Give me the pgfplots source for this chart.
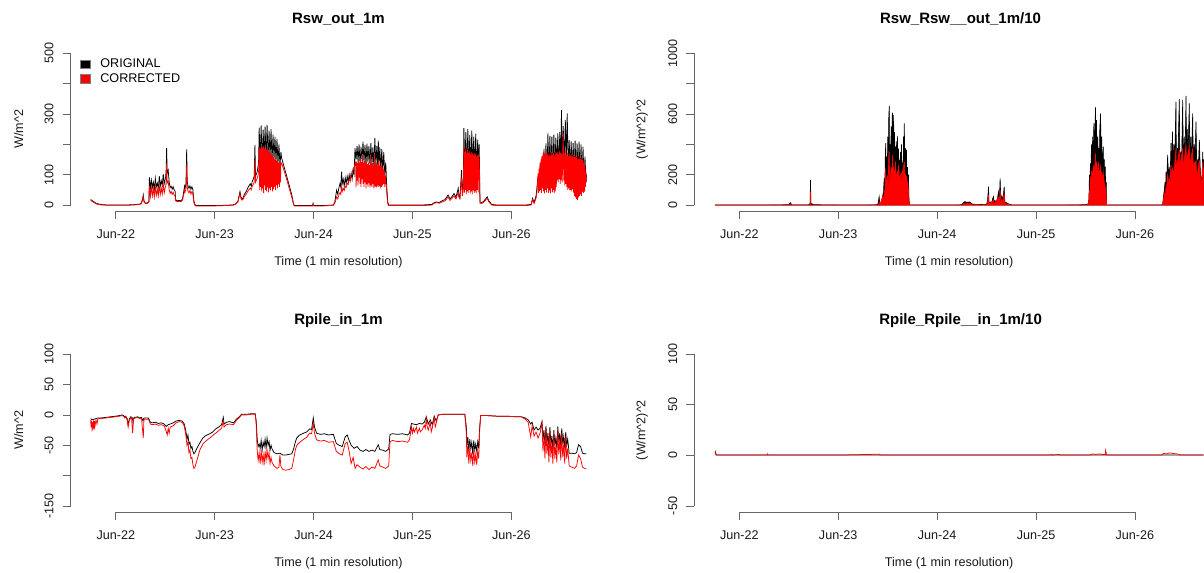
\documentclass[border=0pt]{standalone}
\usepackage{fontspec}
\setmainfont{Liberation Sans}
\usepackage{pgfplots}
\pgfplotsset{compat=1.18}
\tikzset{rax/.style={draw=black!60, line width=0.8pt}}
\pgfplotsset{
  sqleg/.style={legend image code/.code={\draw[##1, line width=0.5pt] (0pt,-4.2pt) rectangle (9.5pt,4.2pt);}},
  rbase/.style={
    scale only axis, width=535.7pt, height=163.9pt, anchor=south west,
    xmin=-0.457, xmax=4.96, clip=false,
    axis x line*=bottom, axis y line*=left,
    x axis line style={draw=none}, y axis line style={draw=none},
    tick align=outside, major tick length=8pt,
    tick style={draw=black!60, line width=0.8pt},
    xtick={0,1,2,3,4}, xticklabels={Jun-22,Jun-23,Jun-24,Jun-25,Jun-26},
    /pgf/number format/assume math mode=true,
    ticklabel style={font=\fontsize{12.6}{15}\selectfont, text=black!90},
    xticklabel style={anchor=center}, xticklabel shift=14.8pt,
    yticklabel style={rotate=90, anchor=center}, yticklabel shift=13.5pt,
    xlabel={Time (1 min resolution)},
    every axis x label/.style={at={(axis description cs:0.5,0)}, anchor=center, yshift=-51.5pt, font=\fontsize{12.6}{15}\selectfont, text=black!90},
    every axis y label/.style={at={(axis description cs:0,0.5)}, xshift=-52pt, rotate=90, anchor=center, font=\fontsize{12.6}{15}\selectfont, text=black!90},
    every axis title/.style={at={(axis description cs:0.5,1)}, anchor=base, yshift=24pt, font=\bfseries\fontsize{15}{18}\selectfont},
  },
  rright/.style={width=509.8pt, xmax=4.698,
    every axis title/.style={at={(axis description cs:0.5226,1)}, anchor=base, yshift=24pt, font=\bfseries\fontsize{15}{18}\selectfont}},
}
\begin{document}
\begin{tikzpicture}[x=1pt,y=1pt]
\path (0,0) rectangle (1204,571);
% ---------------- Top left ----------------
\begin{axis}[rbase, at={(70.6pt,359.9pt)},
  ymin=-20, ymax=520, ytick={0,100,200,300,400,500}, yticklabels={0,100,,300,,500},
  ylabel={W/m\textasciicircum 2}, title={Rsw\_out\_1m},
  sqleg, legend cell align=left,
  legend style={at={(axis description cs:0,1)}, anchor=north west, xshift=9.6pt, yshift=-9.5pt,
    draw=none, fill=none, inner sep=0pt, row sep=0.3pt, column sep=8.5pt, font=\fontsize{12.6}{15}\selectfont,
    nodes={inner sep=1.5pt, text height=9pt, text depth=2.4pt}}]
\addlegendimage{fill=black, draw=black!50}
\addlegendentry{ORIGINAL}
\addlegendimage{fill=red, draw=black!50}
\addlegendentry{CORRECTED}
\addplot[black, line width=0.75pt, forget plot] coordinates {
(-0.254,18)(-0.24,15)(-0.22,10)(-0.20,6)(-0.17,3)(-0.13,1)(-0.08,0)(0.0,0)(0.10,0)(0.18,1)(0.24,3)(0.255,5)(0.27,18)(0.278,33)(0.286,12)(0.30,6)(0.32,7)(0.335,12)
(0.34,91)(0.35,55)(0.36,82)(0.37,58)(0.38,75)(0.39,52)(0.40,88)(0.41,60)(0.42,72)(0.43,55)(0.44,95)(0.45,62)(0.46,80)(0.47,65)(0.48,102)(0.49,70)(0.50,85)(0.505,95)(0.51,120)(0.514,187)(0.52,105)(0.53,115)(0.54,75)(0.55,58)(0.56,62)(0.57,52)(0.58,60)(0.59,50)(0.60,45)(0.605,18)(0.62,14)(0.64,15)(0.66,14)(0.675,20)(0.685,40)(0.695,62)(0.70,55)(0.71,70)(0.717,183)(0.722,80)(0.73,62)(0.74,55)(0.75,63)(0.76,52)(0.77,60)(0.78,50)(0.785,30)(0.79,12)(0.80,2)(0.81,-2)
(0.9,-2)(1.0,-2)(1.1,-1)(1.18,0)(1.21,3)(1.235,12)(1.256,44)(1.265,28)(1.275,20)(1.29,25)(1.30,35)(1.32,45)(1.34,60)(1.36,70)(1.37,62)(1.38,78)(1.39,85)(1.40,95)(1.407,198)(1.413,95)(1.42,100)(1.43,110)(1.44,130)(1.445,150)
(1.45,255)(1.46,150)(1.47,262)(1.48,140)(1.49,248)(1.50,160)(1.51,258)(1.52,145)(1.53,264)(1.54,155)(1.55,245)(1.56,150)(1.57,250)(1.58,140)(1.59,232)(1.60,150)(1.61,225)(1.62,140)(1.63,218)(1.64,135)(1.65,200)(1.66,130)(1.67,175)(1.677,155)
(1.70,128)(1.73,93)(1.76,57)(1.78,33)(1.795,8)(1.805,-2)
(1.9,-2)(1.99,-2)(1.995,5)(2.0,-2)(2.1,-2)(2.2,0)(2.215,10)(2.233,49)(2.245,35)(2.255,55)(2.267,71)(2.275,60)(2.284,110)(2.29,70)(2.30,85)(2.31,62)(2.32,90)(2.33,70)(2.34,95)(2.35,75)(2.36,100)(2.37,80)(2.38,105)(2.39,85)(2.40,115)(2.41,100)(2.419,187)
(2.43,150)(2.44,195)(2.45,140)(2.46,200)(2.47,135)(2.48,192)(2.49,145)(2.50,209)(2.51,140)(2.52,198)(2.53,130)(2.54,202)(2.55,140)(2.56,195)(2.57,135)(2.58,205)(2.59,130)(2.60,190)(2.61,125)(2.62,220)(2.63,130)(2.64,195)(2.65,120)(2.655,212)(2.66,125)(2.67,190)(2.68,115)(2.69,185)(2.70,110)(2.71,175)(2.72,100)(2.73,140)(2.74,60)(2.75,10)(2.76,0)
(2.9,0)(3.1,0)(3.2,2)(3.21,6)(3.24,10)(3.27,8)(3.30,14)(3.33,18)(3.36,33)(3.38,20)(3.40,28)(3.42,38)(3.44,25)(3.463,55)(3.47,30)(3.48,25)(3.497,115)(3.505,40)(3.515,80)
(3.52,253)(3.53,120)(3.54,240)(3.55,110)(3.56,250)(3.57,125)(3.58,230)(3.59,110)(3.60,245)(3.61,120)(3.62,225)(3.63,115)(3.64,235)(3.65,105)(3.66,215)(3.67,110)(3.675,200)(3.683,10)
(3.70,8)(3.72,12)(3.74,20)(3.756,27)(3.77,15)(3.80,2)(3.85,0)(4.0,0)(4.15,0)(4.20,2)(4.215,22)(4.23,8)(4.25,30)(4.26,60)
(4.27,93)(4.28,50)(4.29,130)(4.30,70)(4.31,160)(4.32,80)(4.33,185)(4.34,90)(4.35,203)(4.36,95)(4.37,236)(4.38,100)(4.39,228)(4.40,110)(4.41,225)(4.42,105)(4.43,232)(4.44,115)(4.45,222)(4.46,120)(4.47,236)(4.48,110)(4.49,240)(4.50,130)(4.507,313)(4.515,140)(4.525,260)(4.535,130)(4.546,280)(4.555,140)(4.565,302)(4.575,125)(4.585,214)(4.595,120)(4.605,210)(4.615,115)(4.625,205)(4.635,110)(4.645,212)(4.655,105)(4.665,203)(4.675,100)(4.685,209)(4.695,95)(4.705,200)(4.715,90)(4.725,192)(4.735,85)(4.745,159)(4.755,75)(4.76,99)
};
\addplot[red, line width=0.75pt, forget plot] coordinates {
(-0.254,15)(-0.24,12)(-0.22,8)(-0.20,4)(-0.17,1)(-0.13,0)(-0.08,-1)(0.0,-1)(0.10,-1)(0.18,0)(0.24,2)(0.255,4)(0.27,14)(0.278,26)(0.286,10)(0.30,5)(0.32,5)(0.335,10)
(0.34,62)(0.35,28)(0.36,58)(0.37,30)(0.38,55)(0.39,26)(0.40,60)(0.41,32)(0.42,52)(0.43,30)(0.44,63)(0.45,35)(0.46,56)(0.47,36)(0.48,68)(0.49,40)(0.50,58)(0.505,62)(0.51,80)(0.514,137)(0.52,72)(0.53,78)(0.54,50)(0.55,38)(0.56,45)(0.57,35)(0.58,42)(0.59,33)(0.60,30)(0.605,14)(0.62,11)(0.64,12)(0.66,11)(0.675,16)(0.685,32)(0.695,48)(0.70,42)(0.71,55)(0.717,135)(0.722,60)(0.73,45)(0.74,40)(0.75,48)(0.76,36)(0.77,44)(0.78,35)(0.785,20)(0.79,8)(0.80,-1)(0.81,-3)
(0.9,-3)(1.0,-3)(1.1,-2)(1.18,-1)(1.21,2)(1.235,10)(1.256,38)(1.265,22)(1.275,16)(1.29,20)(1.30,28)(1.32,36)(1.34,48)(1.36,56)(1.37,50)(1.38,62)(1.39,68)(1.40,75)(1.407,150)(1.413,75)(1.42,80)(1.43,88)(1.44,100)(1.445,115)
(1.45,190)(1.455,50)(1.46,185)(1.465,60)(1.47,195)(1.475,45)(1.48,188)(1.485,55)(1.49,192)(1.495,40)(1.50,185)(1.505,65)(1.51,190)(1.515,50)(1.52,182)(1.525,45)(1.53,188)(1.535,58)(1.54,180)(1.545,42)(1.55,175)(1.555,55)(1.56,172)(1.565,48)(1.57,168)(1.575,60)(1.58,165)(1.585,45)(1.59,160)(1.595,52)(1.60,158)(1.605,60)(1.61,150)(1.615,50)(1.62,148)(1.625,65)(1.63,145)(1.635,55)(1.64,142)(1.645,68)(1.65,140)(1.655,60)(1.66,138)(1.665,75)(1.67,140)(1.677,138)
(1.70,115)(1.73,82)(1.76,48)(1.78,25)(1.795,5)(1.805,-3)
(1.9,-3)(1.99,-3)(1.995,3)(2.0,-3)(2.1,-3)(2.2,-1)(2.215,6)(2.233,27)(2.245,20)(2.255,33)(2.267,40)(2.275,35)(2.284,60)(2.29,45)(2.30,55)(2.31,48)(2.32,62)(2.33,58)(2.34,72)(2.35,68)(2.36,85)(2.37,80)(2.38,100)(2.39,105)(2.40,120)(2.41,125)(2.419,132)
(2.425,140)(2.43,60)(2.435,143)(2.44,80)(2.445,138)(2.45,65)(2.455,145)(2.46,90)(2.465,140)(2.47,70)(2.475,148)(2.48,60)(2.485,142)(2.49,85)(2.495,165)(2.50,70)(2.505,140)(2.51,60)(2.515,145)(2.52,75)(2.525,138)(2.53,55)(2.535,142)(2.54,68)(2.545,135)(2.55,60)(2.555,140)(2.56,72)(2.565,132)(2.57,58)(2.575,160)(2.58,65)(2.585,135)(2.59,60)(2.595,138)(2.60,70)(2.605,130)(2.61,55)(2.615,165)(2.62,62)(2.625,135)(2.63,60)(2.635,140)(2.64,58)(2.645,130)(2.65,65)(2.655,150)(2.66,60)(2.665,132)(2.67,62)(2.675,128)(2.68,55)(2.685,140)(2.69,60)(2.695,125)(2.70,65)(2.705,120)(2.71,70)(2.715,115)(2.72,60)(2.725,100)(2.73,80)(2.74,40)(2.75,5)(2.76,-2)
(2.9,-2)(3.1,-2)(3.2,0)(3.21,4)(3.24,8)(3.27,6)(3.30,10)(3.33,14)(3.36,26)(3.38,15)(3.40,22)(3.42,30)(3.44,20)(3.463,42)(3.47,25)(3.48,20)(3.497,90)(3.505,30)(3.515,60)
(3.52,190)(3.525,40)(3.53,175)(3.535,50)(3.54,185)(3.545,35)(3.55,170)(3.555,45)(3.56,188)(3.565,40)(3.57,172)(3.575,50)(3.58,180)(3.585,38)(3.59,168)(3.595,45)(3.60,175)(3.605,35)(3.61,170)(3.615,48)(3.62,165)(3.625,40)(3.63,172)(3.635,45)(3.64,168)(3.645,38)(3.65,160)(3.655,50)(3.66,165)(3.665,42)(3.67,158)(3.675,150)(3.683,6)
(3.70,5)(3.72,9)(3.74,16)(3.756,22)(3.77,12)(3.80,0)(3.85,-2)(4.0,-2)(4.15,-2)(4.20,0)(4.215,18)(4.23,5)(4.25,22)(4.26,45)
(4.27,104)(4.275,40)(4.28,120)(4.285,45)(4.29,140)(4.295,50)(4.30,150)(4.305,40)(4.31,160)(4.315,55)(4.32,170)(4.325,45)(4.33,176)(4.335,38)(4.34,168)(4.345,50)(4.35,172)(4.355,42)(4.36,165)(4.365,55)(4.37,176)(4.375,40)(4.38,160)(4.385,48)(4.39,170)(4.395,38)(4.40,162)(4.405,55)(4.41,175)(4.415,42)(4.42,165)(4.425,50)(4.43,170)(4.435,40)(4.44,160)(4.445,45)(4.45,176)(4.455,60)(4.46,170)(4.465,82)(4.47,175)(4.475,75)(4.48,168)(4.485,85)(4.49,180)(4.495,70)(4.50,172)(4.505,82)(4.51,165)(4.515,75)(4.52,178)(4.525,236)(4.53,80)(4.535,170)(4.54,65)(4.545,181)(4.55,70)(4.555,165)(4.56,60)(4.565,172)(4.57,50)(4.575,160)(4.58,55)(4.585,170)(4.59,48)(4.595,162)(4.60,50)(4.605,168)(4.61,45)(4.615,160)(4.62,52)(4.625,165)(4.63,40)(4.635,158)(4.64,30)(4.645,162)(4.65,25)(4.655,155)(4.66,20)(4.665,160)(4.67,16)(4.675,150)(4.68,25)(4.685,158)(4.69,30)(4.695,152)(4.70,35)(4.705,160)(4.71,30)(4.715,150)(4.72,44)(4.725,148)(4.73,40)(4.735,140)(4.74,44)(4.745,130)(4.75,60)(4.755,110)(4.76,77)
};
\draw[rax] (axis cs:0,-20) -- (axis cs:4,-20);
\draw[rax] (axis cs:-0.457,0) -- (axis cs:-0.457,500);
\end{axis}
% ---------------- Bottom left ----------------
\begin{axis}[rbase, at={(70.6pt,58.9pt)},
  ymin=-160, ymax=110, ytick={-150,-100,-50,0,50,100}, yticklabels={-150,,-50,0,50,100},
  ylabel={W/m\textasciicircum 2}, title={Rpile\_in\_1m}]
\addplot[black, line width=0.75pt, forget plot] coordinates {
(-0.254,-6)(-0.24,-8)(-0.22,-7)(-0.20,-6)(-0.18,-5)(-0.15,-5)(-0.10,-4)(-0.05,-3)(0.0,-2)(0.04,-1)(0.06,0)(0.08,-1)(0.09,-4)(0.10,-2)(0.115,-6)(0.125,-16)(0.135,-8)(0.15,-3)(0.165,-4)(0.175,-12)(0.185,-4)(0.20,-4)(0.22,-3)(0.24,-5)(0.26,-4)(0.275,-10)(0.285,-5)(0.30,-5)(0.33,-5)(0.35,-12)(0.37,-13)(0.40,-12)(0.43,-14)(0.46,-13)(0.49,-15)(0.51,-19)(0.53,-16)(0.55,-15)(0.58,-13)(0.61,-10)(0.64,-9)(0.67,-10)(0.69,-14)(0.70,-20)(0.71,-28)(0.72,-40)(0.73,-33)(0.74,-48)(0.75,-45)(0.76,-55)(0.77,-52)(0.78,-60)(0.79,-64)(0.80,-62)(0.82,-55)(0.85,-46)(0.88,-38)(0.91,-34)(0.95,-31)(0.98,-28)(1.01,-23)(1.04,-20)(1.07,-16)(1.087,-4)(1.095,-15)(1.12,-12)(1.15,-11)(1.19,-13)(1.22,-7)(1.25,-3)(1.27,1)(1.32,1)(1.37,2)(1.41,2)
(1.42,-10)(1.43,-40)(1.44,-52)(1.45,-48)(1.46,-55)(1.47,-42)(1.48,-58)(1.49,-45)(1.50,-52)(1.51,-40)(1.52,-55)(1.53,-38)(1.54,-50)(1.55,-44)(1.56,-58)(1.57,-50)(1.58,-56)(1.60,-62)(1.63,-64)(1.66,-63)(1.69,-66)(1.72,-66)(1.75,-65)(1.78,-64)(1.80,-55)(1.815,-45)(1.83,-38)(1.86,-33)(1.90,-30)(1.93,-28)(1.96,-23)(1.98,-24)(1.997,-5)(2.01,-20)(2.03,-30)(2.07,-32)(2.11,-31)(2.15,-33)(2.20,-32)(2.23,-47)(2.26,-50)(2.29,-52)(2.32,-36)(2.34,-33)(2.36,-42)(2.38,-50)(2.41,-55)(2.44,-52)(2.47,-58)(2.50,-60)(2.53,-57)(2.56,-60)(2.59,-58)(2.62,-60)(2.654,-49)(2.67,-57)(2.70,-58)(2.73,-60)(2.76,-56)(2.773,-32)(2.80,-31)(2.85,-32)(2.90,-31)(2.95,-33)(2.97,-30)(2.99,-14)(3.01,-15)(3.04,-16)(3.07,-14)(3.10,-15)(3.12,-12)(3.14,-3)(3.16,-15)(3.18,-8)(3.20,-16)(3.22,-2)(3.24,-10)(3.26,0)(3.30,1)(3.40,1)(3.50,1)(3.53,1)
(3.545,-20)(3.55,-50)(3.56,-36)(3.57,-60)(3.58,-40)(3.59,-55)(3.60,-45)(3.61,-65)(3.62,-42)(3.63,-58)(3.64,-48)(3.65,-60)(3.66,-44)(3.67,-55)(3.68,-20)(3.69,-1)(3.75,-1)(3.85,-2)(3.95,-2)(4.05,-3)(4.10,-3)(4.14,-5)(4.17,-8)(4.196,-15)(4.21,-12)(4.23,-25)(4.25,-20)(4.27,-25)(4.29,-22)(4.31,-11)(4.32,-40)(4.33,-25)(4.34,-50)(4.35,-18)(4.36,-45)(4.37,-30)(4.38,-55)(4.39,-20)(4.40,-48)(4.41,-35)(4.42,-58)(4.43,-25)(4.44,-50)(4.45,-38)(4.46,-55)(4.47,-19)(4.48,-45)(4.49,-30)(4.50,-52)(4.51,-22)(4.52,-48)(4.53,-35)(4.54,-55)(4.55,-28)(4.56,-50)(4.57,-40)(4.585,-63)(4.61,-63)(4.64,-64)(4.66,-62)(4.68,-49)(4.70,-52)(4.72,-63)(4.74,-64)(4.76,-64)
};
\addplot[red, line width=0.75pt, forget plot] coordinates {
(-0.254,-8)(-0.25,-20)(-0.245,-10)(-0.24,-27)(-0.235,-12)(-0.23,-22)(-0.225,-9)(-0.22,-25)(-0.215,-10)(-0.21,-18)(-0.20,-8)(-0.19,-15)(-0.18,-6)(-0.15,-6)(-0.10,-5)(-0.05,-4)(0.0,-3)(0.04,-2)(0.06,-1)(0.08,-2)(0.09,-5)(0.10,-3)(0.115,-8)(0.125,-20)(0.135,-10)(0.15,-5)(0.16,-6)(0.17,-30)(0.18,-6)(0.20,-5)(0.22,-4)(0.24,-6)(0.26,-5)(0.278,-38)(0.285,-7)(0.30,-7)(0.33,-7)(0.35,-15)(0.37,-16)(0.40,-15)(0.43,-17)(0.46,-16)(0.49,-18)(0.51,-27)(0.52,-33)(0.53,-22)(0.54,-30)(0.55,-20)(0.58,-18)(0.61,-13)(0.64,-11)(0.67,-12)(0.69,-17)(0.70,-25)(0.71,-35)(0.72,-50)(0.73,-45)(0.74,-62)(0.75,-58)(0.76,-72)(0.77,-70)(0.78,-82)(0.79,-88)(0.80,-86)(0.82,-75)(0.85,-58)(0.88,-48)(0.91,-43)(0.95,-38)(0.98,-34)(1.01,-30)(1.04,-26)(1.07,-22)(1.087,-10)(1.095,-20)(1.12,-16)(1.15,-15)(1.19,-16)(1.22,-9)(1.25,-4)(1.27,0)(1.32,0)(1.37,1)(1.41,1)
(1.42,-15)(1.43,-60)(1.44,-75)(1.45,-62)(1.46,-80)(1.47,-58)(1.48,-78)(1.49,-65)(1.50,-82)(1.51,-60)(1.52,-75)(1.53,-58)(1.54,-72)(1.55,-62)(1.56,-80)(1.57,-70)(1.58,-78)(1.60,-84)(1.63,-88)(1.65,-86)(1.66,-66)(1.67,-85)(1.69,-90)(1.72,-91)(1.75,-90)(1.78,-88)(1.80,-72)(1.815,-58)(1.83,-50)(1.86,-45)(1.90,-40)(1.93,-37)(1.96,-30)(1.98,-31)(1.997,-14)(2.01,-30)(2.03,-41)(2.07,-43)(2.11,-42)(2.15,-45)(2.20,-44)(2.23,-60)(2.26,-64)(2.29,-66)(2.32,-47)(2.34,-45)(2.36,-60)(2.38,-80)(2.40,-70)(2.42,-88)(2.44,-82)(2.47,-86)(2.50,-89)(2.53,-85)(2.56,-90)(2.59,-86)(2.62,-88)(2.654,-74)(2.67,-84)(2.70,-86)(2.73,-88)(2.76,-84)(2.773,-44)(2.80,-42)(2.85,-44)(2.90,-43)(2.95,-45)(2.97,-41)(2.99,-20)(3.00,-30)(3.01,-22)(3.02,-28)(3.04,-20)(3.05,-30)(3.07,-22)(3.08,-28)(3.10,-24)(3.12,-17)(3.13,-22)(3.14,-6)(3.15,-20)(3.16,-25)(3.18,-12)(3.19,-28)(3.20,-22)(3.22,-5)(3.23,-20)(3.24,-14)(3.26,0)(3.30,1)(3.40,1)(3.50,1)(3.53,1)
(3.545,-30)(3.55,-70)(3.56,-50)(3.57,-80)(3.58,-55)(3.59,-75)(3.60,-62)(3.61,-84)(3.62,-58)(3.63,-78)(3.64,-65)(3.65,-82)(3.66,-60)(3.67,-72)(3.68,-25)(3.69,-1)(3.75,-1)(3.85,-2)(3.95,-2)(4.05,-3)(4.10,-3)(4.14,-7)(4.17,-12)(4.196,-36)(4.21,-18)(4.23,-35)(4.25,-28)(4.27,-38)(4.29,-30)(4.31,-14)(4.32,-60)(4.33,-35)(4.34,-72)(4.35,-22)(4.36,-65)(4.37,-40)(4.38,-78)(4.39,-28)(4.40,-70)(4.41,-45)(4.42,-80)(4.43,-32)(4.44,-72)(4.45,-50)(4.46,-78)(4.47,-25)(4.48,-65)(4.49,-40)(4.50,-75)(4.51,-30)(4.52,-70)(4.53,-48)(4.54,-80)(4.55,-35)(4.56,-72)(4.57,-55)(4.585,-84)(4.61,-86)(4.64,-88)(4.66,-84)(4.68,-66)(4.70,-72)(4.72,-86)(4.74,-88)(4.76,-89)
};
\draw[rax] (axis cs:0,-160) -- (axis cs:4,-160);
\draw[rax] (axis cs:-0.457,-150) -- (axis cs:-0.457,100);
\end{axis}
% ---------------- Top right ----------------
\begin{axis}[rbase, rright, at={(694.2pt,359.9pt)},
  ymin=-40, ymax=1040, ytick={0,200,400,600,800,1000}, yticklabels={0,200,,600,,1000},
  ylabel={(W/m\textasciicircum 2)\textasciicircum 2}, title={Rsw\_Rsw\_\_out\_1m/10}]
\addplot[draw=black, fill=black, line width=0.6pt, forget plot] coordinates {
(-0.246,0)(0.0,0)(0.3,0)(0.5,2)(0.516,15)(0.53,1)(0.70,1)(0.715,10)(0.7195,165)(0.724,5)(0.73,10)(0.75,2)(1.0,0)(1.3,0)(1.40,2)(1.414,55)(1.42,3)(1.44,10)(1.448,60)(1.455,20)(1.46,120)(1.465,176)(1.47,40)(1.475,300)(1.48,407)(1.485,80)(1.49,319)(1.495,60)(1.50,450)(1.505,120)(1.51,560)(1.516,653)(1.52,100)(1.525,400)(1.53,200)(1.535,520)(1.54,150)(1.545,590)(1.55,609)(1.555,180)(1.56,593)(1.565,200)(1.57,480)(1.575,150)(1.58,385)(1.585,120)(1.59,420)(1.595,200)(1.60,455)(1.605,100)(1.61,374)(1.615,150)(1.62,297)(1.625,80)(1.63,350)(1.635,120)(1.64,400)(1.645,90)(1.65,280)(1.655,150)(1.66,450)(1.665,200)(1.668,538)(1.675,150)(1.68,374)(1.685,120)(1.69,363)(1.695,100)(1.70,250)(1.705,150)(1.71,200)(1.715,50)(1.72,0)
(1.8,0)(2.2,0)(2.25,2)(2.264,15)(2.28,22)(2.30,18)(2.33,20)(2.35,8)(2.40,2)(2.45,5)(2.47,1)(2.50,4)(2.51,30)(2.52,121)(2.525,10)(2.54,20)(2.55,8)(2.56,40)(2.57,55)(2.575,10)(2.585,30)(2.60,15)(2.61,40)(2.62,88)(2.63,40)(2.637,176)(2.645,20)(2.655,60)(2.665,25)(2.678,121)(2.685,20)(2.70,15)(2.72,8)(2.74,3)(2.76,0)
(3.0,0)(3.3,0)(3.50,2)(3.517,5)(3.53,8)(3.535,40)(3.54,198)(3.545,60)(3.55,275)(3.555,100)(3.56,400)(3.565,150)(3.57,450)(3.575,200)(3.585,538)(3.59,250)(3.595,500)(3.602,644)(3.607,300)(3.612,560)(3.617,250)(3.625,450)(3.63,200)(3.635,374)(3.64,250)(3.645,500)(3.653,604)(3.658,280)(3.665,451)(3.67,200)(3.68,385)(3.685,150)(3.69,300)(3.695,120)(3.70,253)(3.705,100)(3.71,150)(3.714,0)
(3.9,0)(4.1,0)(4.27,0)(4.281,5)(4.29,60)(4.297,99)(4.305,150)(4.31,80)(4.315,220)(4.32,120)(4.331,330)(4.34,180)(4.348,250)(4.355,150)(4.365,407)(4.37,200)(4.38,484)(4.387,220)(4.395,400)(4.40,200)(4.415,681)(4.42,250)(4.43,374)(4.435,300)(4.449,697)(4.455,250)(4.465,350)(4.47,200)(4.483,692)(4.49,280)(4.50,450)(4.505,220)(4.517,719)(4.522,300)(4.53,500)(4.535,250)(4.55,670)(4.555,280)(4.565,450)(4.57,250)(4.584,604)(4.59,300)(4.60,400)(4.605,250)(4.618,549)(4.625,250)(4.635,300)(4.64,200)(4.652,429)(4.66,250)(4.669,143)(4.68,200)(4.686,350)(4.69,250)(4.695,300)
} \closedcycle;
\addplot[draw=red, fill=red, line width=0.6pt, forget plot] coordinates {
(-0.246,0)(0.5,0)(0.516,5)(0.53,0)(0.715,0)(0.7195,88)(0.724,0)(1.41,0)(1.414,20)(1.42,0)(1.448,55)(1.455,30)(1.465,80)(1.47,40)(1.48,242)(1.485,100)(1.49,150)(1.50,200)(1.505,100)(1.51,300)(1.516,352)(1.52,150)(1.53,200)(1.535,250)(1.54,180)(1.55,330)(1.555,200)(1.56,240)(1.57,200)(1.58,286)(1.585,150)(1.59,200)(1.60,220)(1.605,150)(1.61,264)(1.62,150)(1.63,200)(1.64,209)(1.645,120)(1.65,220)(1.66,250)(1.668,286)(1.675,180)(1.68,200)(1.69,187)(1.70,150)(1.71,100)(1.715,30)(1.72,0)
(2.26,0)(2.264,8)(2.28,12)(2.30,10)(2.33,12)(2.35,3)(2.50,0)(2.51,15)(2.52,66)(2.525,5)(2.56,25)(2.57,30)(2.575,5)(2.62,50)(2.63,20)(2.637,99)(2.645,10)(2.655,35)(2.665,12)(2.678,77)(2.685,10)(2.70,8)(2.74,0)
(3.52,0)(3.535,20)(3.54,99)(3.545,40)(3.55,187)(3.555,80)(3.56,220)(3.57,200)(3.585,264)(3.59,180)(3.602,340)(3.607,200)(3.612,286)(3.62,200)(3.63,286)(3.64,200)(3.653,253)(3.66,180)(3.665,220)(3.67,150)(3.68,209)(3.69,150)(3.70,121)(3.71,60)(3.714,0)
(4.28,0)(4.29,40)(4.297,77)(4.305,60)(4.315,120)(4.32,90)(4.331,209)(4.34,120)(4.348,180)(4.355,130)(4.365,264)(4.37,180)(4.38,240)(4.39,200)(4.40,250)(4.415,374)(4.42,220)(4.43,280)(4.449,363)(4.455,250)(4.465,300)(4.483,374)(4.49,250)(4.50,300)(4.517,396)(4.522,280)(4.53,320)(4.55,385)(4.555,280)(4.565,300)(4.584,374)(4.59,250)(4.60,280)(4.618,286)(4.625,200)(4.635,220)(4.652,297)(4.66,200)(4.669,120)(4.68,200)(4.686,286)(4.69,220)(4.695,240)
} \closedcycle;
\draw[rax] (axis cs:0,-40) -- (axis cs:4,-40);
\draw[rax] (axis cs:-0.457,0) -- (axis cs:-0.457,1000);
\end{axis}
% ---------------- Bottom right ----------------
\begin{axis}[rbase, rright, at={(694.2pt,58.9pt)},
  ymin=-56, ymax=106, ytick={-50,0,50,100}, yticklabels={-50,0,50,100},
  ylabel={(W/m\textasciicircum 2)\textasciicircum 2}, title={Rpile\_Rpile\_\_in\_1m/10}]
\addplot[black, line width=0.75pt, forget plot] coordinates {
(-0.246,2)(-0.242,3)(-0.235,0.3)(0.0,0.3)(1.0,0.3)(2.0,0.3)(3.0,0.3)(3.70,0.5)(3.705,3.5)(3.71,0.3)(4.0,0.3)(4.695,0.3)
};
\addplot[red, line width=0.75pt, forget plot] coordinates {
(-0.246,3)(-0.242,4)(-0.235,0.5)(0.0,0.3)(0.28,0.3)(0.286,1.5)(0.29,0.3)(1.0,0.3)(1.419,1.2)(1.425,0.3)(2.0,0.3)(3.15,0.3)(3.159,1)(3.165,0.3)(3.237,1)(3.24,0.3)(3.55,0.3)(3.569,1.5)(3.6,1)(3.65,1.5)(3.666,1)(3.70,1)(3.705,4.5)(3.71,0.3)(4.0,0.3)(4.27,0.3)(4.29,2)(4.32,1.5)(4.35,2.5)(4.38,2)(4.42,1.5)(4.448,1)(4.46,0.3)(4.695,0.3)
};
\draw[rax] (axis cs:0,-56) -- (axis cs:4,-56);
\draw[rax] (axis cs:-0.457,-50) -- (axis cs:-0.457,100);
\end{axis}
\end{tikzpicture}
\end{document}
